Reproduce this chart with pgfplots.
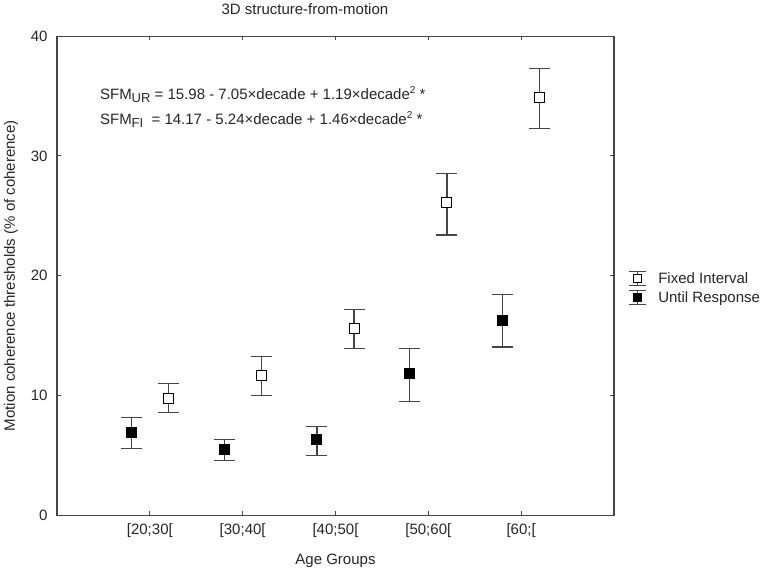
\documentclass[border=0pt]{standalone}
\usepackage{fontspec}
\setmainfont{Liberation Sans}
\usepackage{pgfplots}
\pgfplotsset{compat=1.18}
\usepackage{pgfplotstable}

\pgfplotstableread{
x y ep em
0.8 6.90 1.25 1.31
1.8 5.48 0.82 0.93
2.8 6.33 1.07 1.33
3.8 11.80 2.15 2.30
4.8 16.30 2.10 2.25
}\urdata
\pgfplotstableread{
x y ep em
1.2 9.75 1.25 1.15
2.2 11.70 1.55 1.70
3.2 15.60 1.55 1.65
4.2 26.10 2.40 2.70
5.2 34.90 2.40 2.60
}\fidata

\definecolor{axgray}{RGB}{70,70,70}
\newcommand{\ff}{\fontsize{15bp}{18bp}\selectfont}

\begin{document}
\begin{tikzpicture}
\begin{axis}[
  scale only axis,
  width=557bp, height=479bp,
  xmin=0, xmax=6, ymin=0, ymax=40,
  xtick={1,2,3,4,5},
  xticklabels={{[20;30[},{[30;40[},{[40;50[},{[50;60[},{[60;[}},
  ytick={0,10,20,30,40},
  tick align=inside,
  major tick length=4bp,
  axis line style={axgray, line width=1.2bp},
  tick style={axgray, line width=1bp},
  /pgf/number format/assume math mode=true,
  tick label style={font=\ff, black!85},
  xticklabel style={yshift=-5bp},
  yticklabel style={xshift=-6bp},
  label style={font=\ff, black!85},
  xlabel={Age Groups},
  ylabel={Motion coherence thresholds (\% of coherence)},
  xlabel style={at={(axis description cs:0.5,-0.096)}, anchor=center},
  ylabel style={at={(axis description cs:-0.0826,0.5)}, anchor=center},
  title={3D structure-from-motion},
  title style={font=\ff, black!85, at={(0.445,1)}, anchor=base, yshift=16bp},
  legend style={at={(rel axis cs:1,0.474)}, anchor=west, xshift=11bp,
    draw=none, fill=none, font=\ff, text=black!85,
    nodes={inner ysep=2.5bp, inner xsep=2bp}, column sep=10bp, row sep=2bp,
    cells={anchor=west}},
]
\addplot[only marks, mark=square*, mark size=5bp,
  mark options={fill=white, draw=black, line width=0.9bp},
  legend image code/.code={
    \draw[axgray, line width=1.1bp] (0bp,-7bp)--(17bp,-7bp) (0bp,7bp)--(17bp,7bp) (8.5bp,-7bp)--(8.5bp,7bp);
    \draw[black, fill=white, line width=0.8bp] (4.5bp,-4bp) rectangle (12.5bp,4bp);
  },
  error bars/.cd, y dir=both, y explicit,
  error bar style={axgray, line width=1.2bp},
  error mark options={rotate=90, axgray, line width=1.2bp, mark size=10.5bp},
  ] table[x=x, y=y, y error plus=ep, y error minus=em] {\fidata};
\addlegendentry{Fixed Interval}
\addplot[only marks, mark=square*, mark size=5bp,
  mark options={fill=black, draw=black, line width=0.9bp},
  legend image code/.code={
    \draw[axgray, line width=1.1bp] (0bp,-7bp)--(17bp,-7bp) (0bp,7bp)--(17bp,7bp) (8.5bp,-7bp)--(8.5bp,7bp);
    \draw[black, fill=black, line width=0.8bp] (4.5bp,-4bp) rectangle (12.5bp,4bp);
  },
  error bars/.cd, y dir=both, y explicit,
  error bar style={axgray, line width=1.2bp},
  error mark options={rotate=90, axgray, line width=1.2bp, mark size=10.5bp},
  ] table[x=x, y=y, y error plus=ep, y error minus=em] {\urdata};
\addlegendentry{Until Response}
\node[anchor=base west, font=\ff, text=black!85, inner sep=0pt] at (rel axis cs:0.077,0.8685)
  {SFM\raisebox{-3bp}{\fontsize{13bp}{13bp}\selectfont UR} = 15.98 - 7.05×decade + 1.19×decade\raisebox{6bp}{\fontsize{10bp}{10bp}\selectfont 2} *};
\node[anchor=base west, font=\ff, text=black!85, inner sep=0pt] at (rel axis cs:0.077,0.8163)
  {SFM\raisebox{-3bp}{\fontsize{13bp}{13bp}\selectfont FI}\ \ = 14.17 - 5.24×decade + 1.46×decade\raisebox{6bp}{\fontsize{10bp}{10bp}\selectfont 2} *};
\end{axis}
\path (current axis.south west) ++(-57bp,-60bp);
\path (current axis.north east) ++(154bp,33bp);
\end{tikzpicture}
\end{document}
